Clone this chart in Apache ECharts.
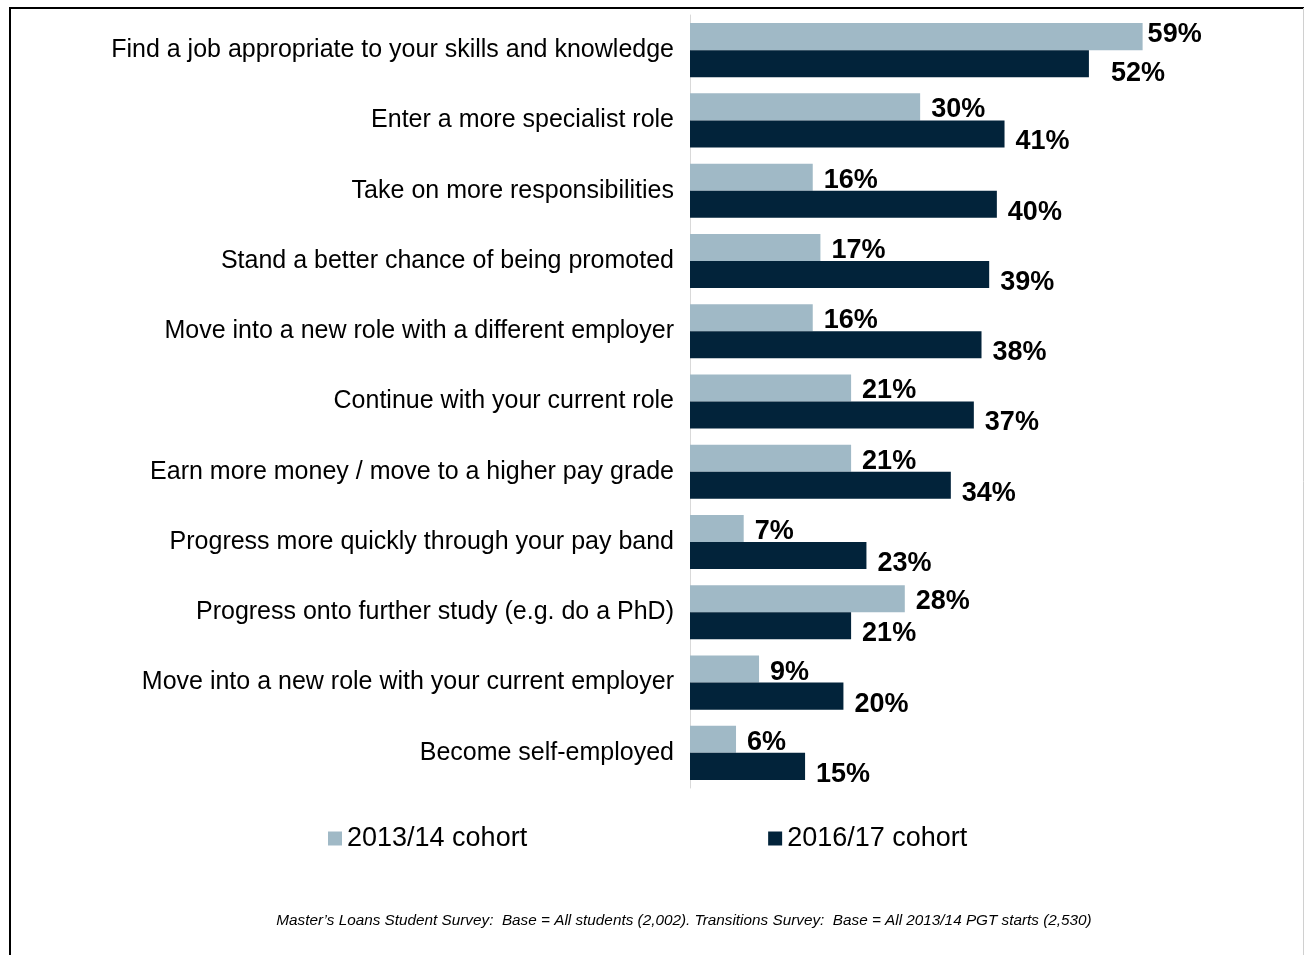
<!DOCTYPE html>
<html>
<head>
<meta charset="utf-8">
<script src="https://cdn.jsdelivr.net/npm/echarts@6/dist/echarts.min.js"></script>
<style>
  html, body { margin: 0; padding: 0; background: #fff; }
  #main { width: 1304px; height: 955px; }
</style>
</head>
<body>
<div id="main"></div>
<script>
var categories = [
  'Find a job appropriate to your skills and knowledge',
  'Enter a more specialist role',
  'Take on more responsibilities',
  'Stand a better chance of being promoted',
  'Move into a new role with a different employer',
  'Continue with your current role',
  'Earn more money / move to a higher pay grade',
  'Progress more quickly through your pay band',
  'Progress onto further study (e.g. do a PhD)',
  'Move into a new role with your current employer',
  'Become self-employed'
];
var cohort1314 = [59, 30, 16, 17, 16, 21, 21, 7, 28, 9, 6];
var cohort1617 = [52, 41, 40, 39, 38, 37, 34, 23, 21, 20, 15];
var seriesNames = ['2013/14 cohort', '2016/17 cohort'];
var footnote = 'Master\u2019s Loans Student Survey:  Base = All students (2,002). Transitions Survey:  Base = All 2013/14 PGT starts (2,530)';

var chartDom = document.getElementById('main');
var myChart = echarts.init(chartDom);
var option;

// the top pair of labels was nudged by hand in the original
function barData(values, firstLabel) {
  return values.map(function (v, i) {
    if (i === 0) {
      return { value: v, label: firstLabel };
    }
    return v;
  });
}

var valueLabel = {
  show: true,
  position: 'right',
  formatter: '{c}%',
  fontSize: 27,
  fontWeight: 'bold',
  color: '#000'
};

option = {
  animation: false,
  textStyle: { fontFamily: 'Liberation Sans, Arial, sans-serif' },
  grid: {
    left: 690,
    right: 77,
    top: 15,
    height: 773,
    containLabel: false
  },
  legend: {
    top: 820,
    left: 323,
    itemGap: 241,
    itemWidth: 14,
    itemHeight: 14,
    icon: 'rect',
    textStyle: { fontSize: 27, color: '#000' },
    data: seriesNames
  },
  xAxis: {
    type: 'value',
    min: 0,
    max: 70,
    show: false
  },
  yAxis: {
    type: 'category',
    inverse: true,
    data: categories,
    axisLine: { show: true, lineStyle: { color: '#d9d9d9', width: 1 } },
    axisTick: { show: false },
    axisLabel: { fontSize: 25, color: '#000', margin: 16, padding: [3, 0, 0, 0] }
  },
  series: [
    {
      name: seriesNames[0],
      type: 'bar',
      data: barData(cohort1314, { distance: 5, offset: [0, -2] }),
      barGap: '0%',
      barCategoryGap: '23%',
      itemStyle: { color: '#a0b9c6' },
      label: Object.assign({}, valueLabel, { distance: 11, offset: [0, 3] })
    },
    {
      name: seriesNames[1],
      type: 'bar',
      data: barData(cohort1617, { distance: 22, offset: [0, 10] }),
      itemStyle: { color: '#02233a' },
      label: Object.assign({}, valueLabel, { distance: 11, offset: [0, 8] })
    }
  ],
  graphic: {
    elements: [
      {
        type: 'line',
        shape: { x1: 9, y1: 8, x2: 1304, y2: 8 },
        style: { stroke: '#000', lineWidth: 2 }
      },
      {
        type: 'line',
        shape: { x1: 10, y1: 7, x2: 10, y2: 955 },
        style: { stroke: '#000', lineWidth: 2 }
      },
      {
        type: 'line',
        shape: { x1: 1303.5, y1: 8, x2: 1303.5, y2: 955 },
        style: { stroke: '#d0d0d0', lineWidth: 1 }
      },
      {
        type: 'text',
        x: 684,
        y: 921,
        style: {
          text: footnote,
          font: 'italic 15.3px "Liberation Sans", sans-serif',
          fill: '#000',
          align: 'center',
          verticalAlign: 'middle'
        }
      }
    ]
  }
};

option && myChart.setOption(option);
</script>
</body>
</html>
